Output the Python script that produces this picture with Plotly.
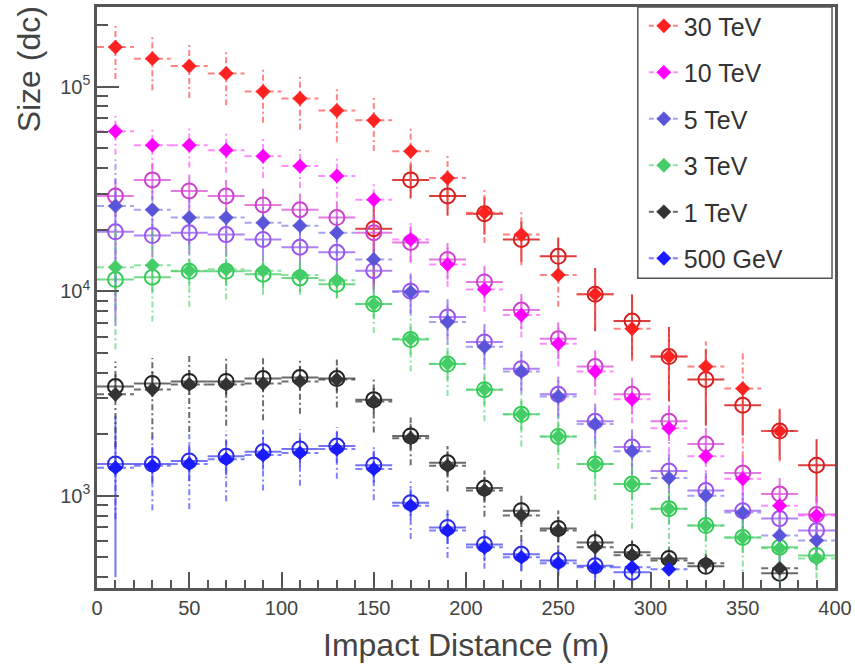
import math
import plotly.graph_objects as go

# Bin centres of the impact-distance histogram (m) and half bin width
X_FULL = [10, 30, 50, 70, 90, 110, 130, 150, 170, 190, 210, 230, 250,
          270, 290, 310, 330, 350, 370, 390]
BIN_HALF = 10

# ---- diamonds: mean size per bin (dc) and its error ----
x_30d = X_FULL[:19]
y_30d = [156000, 137000, 126000, 116000, 94600, 87500, 76400, 68400, 48300,
         35700, 24200, 18900, 12000, 9670, 6550, 4790, 4280, 3340, 2070]
e_30d = [47000, 41000, 38000, 35000, 28000, 26000, 23000, 20000, 14000,
         10500, 7000, 5500, 3600, 2900, 2000, 1500, 1400, 1800, 600]

x_10d = X_FULL
y_10d = [60500, 51700, 51700, 48900, 45700, 40900, 36600, 28000, 17900, 13500,
         10200, 7640, 5530, 4050, 2960, 2140, 1560, 1210, 894, 800]
e_10d = [14000, 12000, 11500, 11000, 10000, 9000, 8000, 6500, 4000, 3000,
         2300, 1700, 1250, 950, 700, 520, 380, 300, 220, 200]

x_5d = X_FULL
y_5d = [26100, 25000, 22900, 22900, 21600, 20900, 19300, 14300, 9900, 7070,
        5350, 4050, 3060, 2240, 1650, 1220, 1000, 827, 640, 605]
e_5d = [18000, 8000, 6000, 5500, 5000, 4800, 4400, 3300, 2300, 1600,
        1200, 900, 700, 520, 380, 290, 240, 200, 160, 150]

x_3d = X_FULL
y_3d = [13100, 13400, 12600, 12800, 12600, 12000, 11300, 8650, 5850, 4420,
        3310, 2500, 1950, 1430, 1140, 865, 715, 625, 553, 494]
e_3d = [7900, 6300, 4200, 3700, 3000, 2400, 2000, 2400, 1800, 1350,
        1000, 760, 600, 480, 450, 340, 280, 240, 200, 100]

x_1d = X_FULL[:17] + [370]
y_1d = [3130, 3310, 3500, 3500, 3540, 3620, 3700, 2890, 1910, 1400,
        1060, 800, 676, 560, 512, 483, 468, 442]
e_1d = [1400, 1400, 1450, 1300, 1200, 1100, 1000, 850, 500, 350,
        270, 200, 170, 110, 90, 70, 50, 30]

x_05d = X_FULL[:16]
y_05d = [1370, 1400, 1430, 1510, 1580, 1620, 1690, 1350, 894, 676,
         560, 500, 468, 447, 447, 437]
e_05d = [600, 550, 570, 570, 520, 500, 480, 400, 280, 180,
         120, 70, 60, 50, 40, 30]

# ---- open circles: second sample, same energies ----
x_30c = X_FULL[7:]
y_30c = [20200, 35000, 29200, 23900, 17900, 14800, 9670, 7140, 4790, 3700,
         2770, 2070, 1410]
e_30c = [10000, 6600, 5800, 5000, 4000, 3500, 3300, 2500, 1900, 1500,
         800, 570, 480]

x_10c = X_FULL
y_10c = [29200, 35000, 30900, 29200, 26400, 25000, 22900, 19300, 17300, 14300,
         11100, 8090, 5850, 4280, 3130, 2310, 1790, 1290, 1020, 810]
e_10c = [6000, 7000, 6200, 5800, 5300, 5000, 4600, 3900, 3500, 2900,
         2200, 1600, 1200, 860, 630, 460, 360, 260, 200, 160]

x_5c = X_FULL
y_5c = [19500, 18700, 19300, 18900, 17900, 16400, 15500, 12600, 10000, 7480,
        5650, 4180, 3130, 2310, 1730, 1320, 1060, 845, 773, 676]
e_5c = [12700, 4100, 4200, 4100, 3900, 3600, 3400, 2800, 2200, 1650,
        1250, 920, 690, 510, 380, 290, 240, 190, 170, 150]

x_3c = X_FULL
y_3c = [11400, 11700, 12500, 12500, 12100, 11600, 10800, 8650, 5800, 4400,
        3300, 2500, 1950, 1430, 1140, 865, 715, 625, 560, 511]
e_3c = [1800, 1800, 1900, 1900, 1800, 1700, 1600, 1300, 900, 700,
        520, 400, 310, 230, 180, 140, 115, 100, 90, 80]

x_1c = X_FULL[:17] + [370]
y_1c = [3420, 3540, 3620, 3620, 3740, 3780, 3740, 2950, 1960, 1450,
        1090, 845, 692, 591, 529, 494, 452, 418]
e_1c = [500, 500, 500, 500, 500, 500, 500, 420, 280, 200,
        150, 120, 100, 85, 75, 70, 30, 25]

x_05c = X_FULL[:15]
y_05c = [1430, 1430, 1480, 1560, 1640, 1690, 1750, 1410, 925, 700,
         578, 517, 483, 455, 423]
e_05c = [1030, 300, 300, 300, 300, 300, 300, 250, 160, 120,
         100, 90, 80, 70, 60]

LABELS = ["30 TeV", "10 TeV", "5 TeV", "3 TeV", "1 TeV", "500 GeV"]

# (marker colour, error-bar colour)
DIAMOND_STYLE = [
    ("#ff2020", "rgba(255,90,90,0.75)"),
    ("#ff00ff", "rgba(255,80,255,0.65)"),
    ("#5a55d8", "rgba(110,100,230,0.6)"),
    ("#44cc66", "rgba(80,210,110,0.65)"),
    ("#333333", "rgba(60,60,60,0.75)"),
    ("#1a1aff", "rgba(60,60,255,0.65)"),
]
CIRCLE_STYLE = [
    ("#d82020", "rgba(215,40,40,0.9)"),
    ("#cc44cc", "rgba(220,90,220,0.8)"),
    ("#9955ee", "rgba(155,100,240,0.8)"),
    ("#33cc55", "rgba(80,205,110,0.8)"),
    ("#222222", "rgba(80,80,80,0.85)"),
    ("#2a2ae8", "rgba(80,80,240,0.8)"),
]

diamonds = [(x_30d, y_30d, e_30d), (x_10d, y_10d, e_10d), (x_5d, y_5d, e_5d),
            (x_3d, y_3d, e_3d), (x_1d, y_1d, e_1d), (x_05d, y_05d, e_05d)]
circles = [(x_30c, y_30c, e_30c), (x_10c, y_10c, e_10c), (x_5c, y_5c, e_5c),
           (x_3c, y_3c, e_3c), (x_1c, y_1c, e_1c), (x_05c, y_05c, e_05c)]

Y_MIN, Y_MAX = 354, 245000

DIAMOND_MARKER = dict(symbol="diamond", size=11)


def bar_segments(xs, ys, es):
    """Horizontal (bin width) and vertical (error) segments, None-separated."""
    hx, hy, vx, vy = [], [], [], []
    for x, y, e in zip(xs, ys, es):
        hx += [x - BIN_HALF, x + BIN_HALF, None]
        hy += [y, y, None]
        vx += [x, x, None]
        vy += [max(y - e, Y_MIN * 0.9), y + e, None]
    return hx, hy, vx, vy


fig = go.Figure()

# error bars of the open-circle sample (solid)
for (xs, ys, es), (mc, bc) in zip(circles, CIRCLE_STYLE):
    hx, hy, vx, vy = bar_segments(xs, ys, es)
    fig.add_trace(go.Scatter(x=hx, y=hy, mode="lines", showlegend=False,
                             hoverinfo="skip", line=dict(color=bc, width=2)))
    fig.add_trace(go.Scatter(x=vx, y=vy, mode="lines", showlegend=False,
                             hoverinfo="skip", line=dict(color=bc, width=2)))

# error bars of the diamond sample (dashed / dash-dotted)
for (xs, ys, es), (mc, bc) in zip(diamonds, DIAMOND_STYLE):
    hx, hy, vx, vy = bar_segments(xs, ys, es)
    fig.add_trace(go.Scatter(x=hx, y=hy, mode="lines", showlegend=False,
                             hoverinfo="skip",
                             line=dict(color=bc, width=2, dash="7px,4px")))
    fig.add_trace(go.Scatter(x=vx, y=vy, mode="lines", showlegend=False,
                             hoverinfo="skip",
                             line=dict(color=bc, width=2, dash="6px,3px,2px,3px")))

# open circles
for (xs, ys, es), (mc, bc), name in zip(circles, CIRCLE_STYLE, LABELS):
    fig.add_trace(go.Scatter(x=xs, y=ys, mode="markers", showlegend=False,
                             name=name + " (open)",
                             marker=dict(symbol="circle-open", size=15,
                                         color=mc, line=dict(width=2, color=mc))))

# filled diamonds
for (xs, ys, es), (mc, bc), name in zip(diamonds, DIAMOND_STYLE, LABELS):
    fig.add_trace(go.Scatter(x=xs, y=ys, mode="markers", showlegend=False,
                             name=name,
                             marker=dict(**DIAMOND_MARKER, color=mc,
                                         line=dict(width=0.5, color=mc))))

# legend entries: dashed line with diamond marker
for (mc, bc), name in zip(DIAMOND_STYLE, LABELS):
    fig.add_trace(go.Scatter(x=[None], y=[None], mode="lines+markers",
                             name=name, legendgroup=name, showlegend=True,
                             line=dict(color=bc, width=2, dash="5px,3px"),
                             marker=dict(**DIAMOND_MARKER, color=mc,
                                         line=dict(width=0.5, color=mc))))

FONT = "Liberation Sans, Arial, Helvetica, sans-serif"
AXIS_COL = "#555555"
TEXT_COL = "#444444"

minor_y = [m * 10 ** k for k in (2, 3, 4, 5) for m in range(2, 10)]

fig.update_layout(
    width=855, height=667,
    margin=dict(l=97, r=17, t=3, b=79),
    plot_bgcolor="white", paper_bgcolor="white",
    font=dict(family=FONT, color=TEXT_COL),
    showlegend=True,
    legend=dict(x=0.741, y=1.0068, xanchor="left", yanchor="top",
                bgcolor="rgba(0,0,0,0)", borderwidth=0,
                font=dict(size=25, color="#333333", family=FONT),
                tracegroupgap=11, itemwidth=30),
    xaxis=dict(range=[0, 400], tickmode="linear", tick0=0, dtick=50,
               ticks="inside", ticklen=16, tickwidth=2, tickcolor=AXIS_COL,
               showline=True, linecolor=AXIS_COL, linewidth=2.5, mirror=True,
               showgrid=False, zeroline=False,
               tickfont=dict(size=20, color=TEXT_COL, family=FONT),
               minor=dict(ticks="inside", ticklen=8, dtick=10, tickwidth=1.5,
                          tickcolor=AXIS_COL, showgrid=False)),
    yaxis=dict(type="log", range=[math.log10(Y_MIN), math.log10(Y_MAX)],
               tickmode="array", tickvals=[1e3, 1e4, 1e5],
               ticktext=["10<sup>3</sup>", "10<sup>4</sup>", "10<sup>5</sup>"],
               ticks="inside", ticklen=22, tickwidth=2, tickcolor=AXIS_COL,
               showline=True, linecolor=AXIS_COL, linewidth=2.5, mirror=True,
               showgrid=False, zeroline=False,
               tickfont=dict(size=20, color=TEXT_COL, family=FONT),
               minor=dict(ticks="inside", ticklen=11, tickwidth=1.5,
                          tickmode="array", tickvals=minor_y,
                          tickcolor=AXIS_COL, showgrid=False)),
    shapes=[dict(type="rect", xref="paper", yref="paper",
                 x0=(640 - 97) / 741, x1=(835 - 97) / 741,
                 y0=(588 - 276) / 585, y1=1.0,
                 line=dict(color="#555555", width=1.5),
                 fillcolor="white", layer="below")],
    annotations=[
        dict(text="Size (dc)", textangle=-90, xref="paper", yref="paper",
             x=(29 - 97) / 741, y=1.005, xanchor="center", yanchor="top",
             showarrow=False, font=dict(size=32, color=TEXT_COL, family=FONT)),
        dict(text="Impact Distance (m)", xref="paper", yref="paper",
             x=0.5, y=-(645 - 588) / 585, xanchor="center", yanchor="middle",
             showarrow=False, font=dict(size=32, color=TEXT_COL, family=FONT)),
    ],
)

fig.write_html("out.html")
